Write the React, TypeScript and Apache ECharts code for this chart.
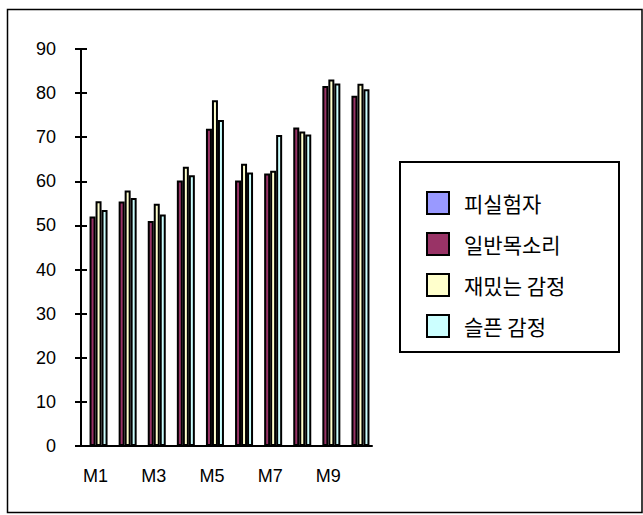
import React, { useEffect, useRef } from "react";
import * as echarts from "echarts";

const categories = ["M1", "M2", "M3", "M4", "M5", "M6", "M7", "M8", "M9", "M10"];
const seriesNames = ["피실험자", "일반목소리", "재밌는 감정", "슬픈 감정"];
const subjectValues: (number | null)[] = [null, null, null, null, null, null, null, null, null, null];
const normalVoice = [52.0, 55.4, 51.0, 60.2, 71.9, 60.2, 61.8, 72.2, 81.6, 79.4];
const funEmotion = [55.5, 57.9, 54.9, 63.3, 78.4, 64.0, 62.4, 71.3, 83.1, 82.1];
const sadEmotion = [53.5, 56.2, 52.5, 61.4, 73.9, 62.0, 70.5, 70.6, 82.2, 80.9];
const colors = ["#9999FF", "#993366", "#FFFFCC", "#CCFFFF"];

export default function App() {
  const ref = useRef<HTMLDivElement>(null);
  useEffect(() => {
    if (!ref.current) return;
    const chart = echarts.init(ref.current, undefined, { renderer: "svg" });
    const dataSets = [subjectValues, normalVoice, funEmotion, sadEmotion];
    const axisFont = "Liberation Sans, Arial, sans-serif";
    const yBase = {
      type: "value" as const,
      min: 0,
      max: 90,
      interval: 10,
      splitLine: { show: false },
    };
    chart.setOption({
      animation: false,
      backgroundColor: "#ffffff",
      grid: { left: 81, right: 271, top: 49, bottom: 69, containLabel: false },
      xAxis: {
        type: "category",
        data: categories,
        axisLine: { show: true, lineStyle: { color: "#000", width: 2 } },
        axisTick: { show: false },
        axisLabel: {
          interval: 1,
          color: "#000",
          fontSize: 18,
          fontFamily: axisFont,
          margin: 21,
        },
      },
      yAxis: [
        {
          ...yBase,
          axisLine: { show: true, lineStyle: { color: "#000", width: 2 } },
          axisTick: { show: true, length: 6, lineStyle: { color: "#000", width: 2 } },
          axisLabel: { color: "#000", fontSize: 18, fontFamily: axisFont, margin: 25 },
        },
        {
          ...yBase,
          position: "left",
          axisLine: { show: false },
          axisTick: { show: true, inside: true, length: 6, lineStyle: { color: "#000", width: 2 } },
          axisLabel: { show: false },
        },
      ],
      legend: {
        orient: "vertical",
        left: 421,
        top: 186,
        itemWidth: 22,
        itemHeight: 22,
        itemGap: 17,
        icon: "rect",
        textStyle: {
          color: "#000",
          fontSize: 21,
          fontFamily: "Noto Sans CJK KR, sans-serif",
          padding: [0, 0, 0, 10],
        },
        data: seriesNames,
      },
      graphic: [
        {
          type: "rect",
          shape: { x: 7.5, y: 9.5, width: 634.5, height: 503 },
          style: { fill: "none", stroke: "#000", lineWidth: 1.5 },
          silent: true,
          z: -1,
        },
        {
          type: "rect",
          shape: { x: 400, y: 162, width: 219, height: 190 },
          style: { fill: "#fff", stroke: "#000", lineWidth: 2 },
          silent: true,
          z: -1,
        },
      ],
      series: seriesNames.map((name, i) => ({
        name,
        type: "bar",
        data: dataSets[i],
        barWidth: 6,
        barGap: "0%",
        itemStyle: { color: colors[i], borderColor: "#000", borderWidth: 2 },
      })),
    });
    return () => chart.dispose();
  }, []);
  return (
    <div
      ref={ref}
      style={{ position: "fixed", left: 0, top: 0, width: 643, height: 515 }}
    />
  );
}
